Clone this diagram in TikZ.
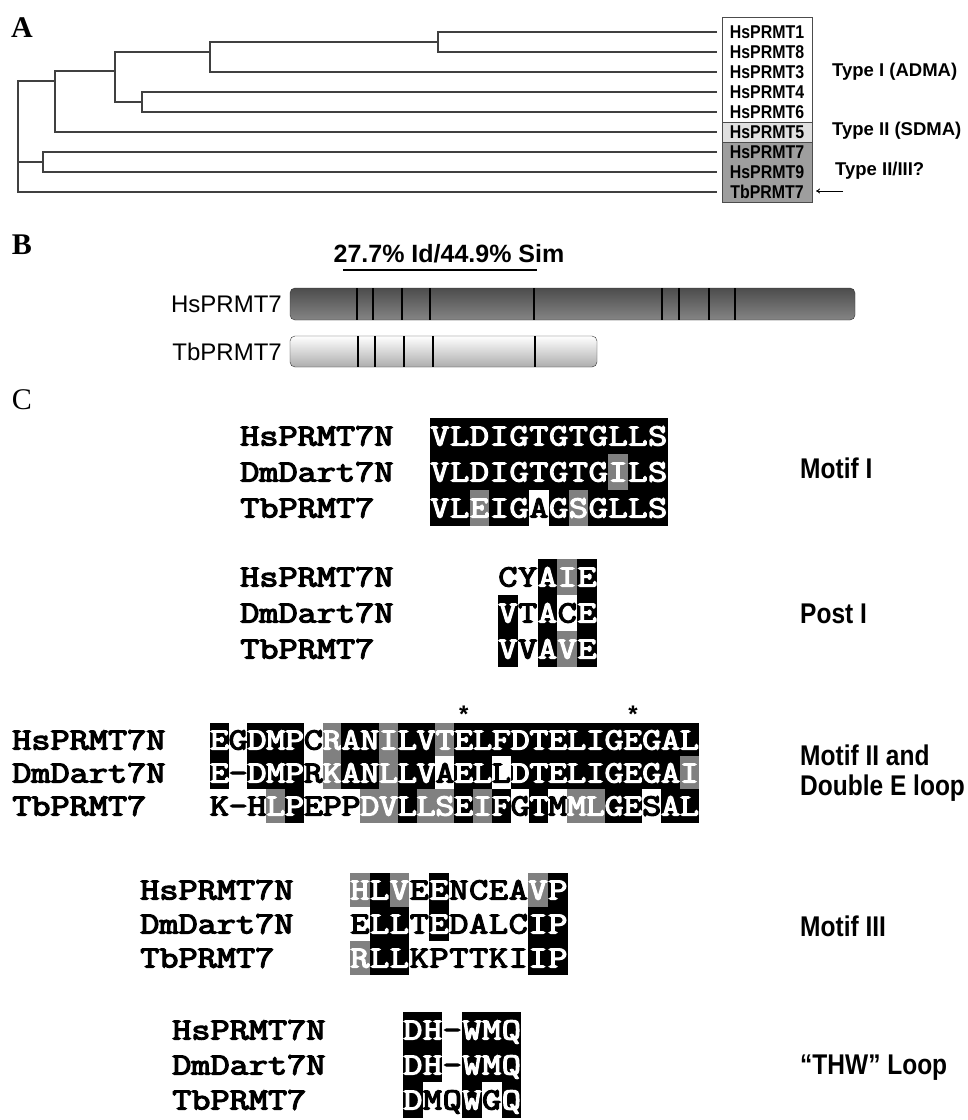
\documentclass[tikz,border=0pt]{standalone}
\usepackage{fontspec}
\setmainfont{Liberation Serif}
\newfontfamily\armfont{Liberation Sans}
\newfontfamily\condfont[FakeStretch=0.86]{Liberation Sans}
\usetikzlibrary{arrows.meta,positioning}

\newcommand{\seqfont}{\fontsize{31}{31}\selectfont\ttfamily}
\newcommand{\seq}[1]{\special{pdf:literal direct 2 Tr 1.1 w}\scalebox{1.2}[1]{#1}\special{pdf:literal direct 0 Tr}}
% one row of an alignment: name, x0, y, column width, row height, residue/shade list
\newcommand{\alnrow}[6]{%
  \foreach \res/\sh [count=\k] in {#6}
    \node[res\sh, minimum width=#4pt, minimum height=#5pt] (#1-\k) at ({#2+(\k-0.5)*#4},#3) {\seq{\res}};}

\tikzset{
  branch/.style={draw=black!75, line width=1.1pt},
  cell/.style={inner sep=0pt, outer sep=0pt, font=\seqfont, text height=19pt, text depth=0pt},
  resb/.style={cell, fill=black, text=white},
  resg/.style={cell, fill=black!50, text=white},
  resw/.style={cell, fill=white, text=black},
  seqlabel/.style={anchor=west, inner sep=0pt, font=\seqfont, text height=19pt, text depth=0pt},
  motiflabel/.style={anchor=west, inner sep=0pt, font={\fontsize{28.5}{30}\condfont\bfseries}},
  protname/.style={inner sep=0pt, font={\fontsize{18.5}{18.5}\condfont\bfseries}},
  typelabel/.style={anchor=west, inner sep=0pt, font={\fontsize{18.5}{18.5}\armfont\bfseries}},
  panel/.style={inner sep=0pt, font={\fontsize{30}{30}\selectfont\bfseries}},
}

\begin{document}
\begin{tikzpicture}[x=1pt,y=-1pt]
\useasboundingbox (0,0) rectangle (968,1120);
\fill[white] (0,0) rectangle (968,1120);

% ---- A: tree
\node[panel] (lblA) at (22,28) {A};
\foreach \i in {1,...,9} \coordinate (e\i) at (717,{12+20*\i});
\coordinate (n18) at (438,42);
\coordinate (n183) at (210,52);
\coordinate (n46) at (142,102);
\coordinate (nI) at (115,71);
\coordinate (nI5) at (55,81);
\coordinate (n79) at (43,162);
\coordinate (root) at (18,162);
\draw[branch] (e1) -| (n18) |- (e2);
\draw[branch] (n18) -| (n183) |- (e3);
\draw[branch] (e4) -| (n46) |- (e5);
\draw[branch] (n183) -| (nI) |- (n46);
\draw[branch] (nI) -| (nI5) |- (e6);
\draw[branch] (e7) -| (n79) |- (e8);
\draw[branch] (nI5) -| (root) |- (e9);
\draw[branch] (n79) -- (root);

\fill[black!12] (722,122) rectangle (812,142);
\fill[black!38] (722,142) rectangle (812,202);
\draw[black!70, line width=1pt] (722,17) rectangle (812,202);
\draw[black!70, line width=1pt] (722,122) -- (812,122) (722,142) -- (812,142);
\foreach \nm [count=\i] in {HsPRMT1,HsPRMT8,HsPRMT3,HsPRMT4,HsPRMT6,HsPRMT5,HsPRMT7,HsPRMT9,TbPRMT7}
  \node[protname] (p\i) at (767,{12+20*\i}) {\nm};
\node[typelabel] (typeI) at (832,72) {Type I (ADMA)};
\node[typelabel] (typeII) at (832,131) {Type II (SDMA)};
\node[typelabel] (typeIII) at (835,171) {Type II/III?};
\coordinate (arrtail) at (843,191);
\coordinate (arrtip) at (816,191);
\draw[-{To[length=4pt,width=5pt]}, line width=0.9pt] (arrtail) -- (arrtip);

% ---- B: domain bars
\node[panel] (lblB) at (22,245) {B};
\node[inner sep=0pt, font={\fontsize{25}{25}\armfont\bfseries}] (ident) at (449,254) {27.7\% Id/44.9\% Sim};
\coordinate (ul1) at (343,270);
\coordinate (ul2) at (537,270);
\draw[line width=1.6pt] (ul1) -- (ul2);
\node[anchor=east, inner sep=0pt, font={\fontsize{24}{24}\armfont}] (hsname) at (282,304) {HsPRMT7};
\draw[rounded corners=5pt, top color=black!70, bottom color=black!48, draw=black!80] (290,288) rectangle (855,320);
\foreach \mx in {357,373,402,430,534,662,679,709,735}
  \draw[line width=1.6pt] (\mx,288) -- (\mx,320);
\node[anchor=east, inner sep=0pt, font={\fontsize{24}{24}\armfont}] (tbname) at (282,352) {TbPRMT7};
\draw[rounded corners=5pt, top color=white, bottom color=black!32, draw=black!80] (290,336) rectangle (597,367);
\foreach \mx in {358,375,404,433,535}
  \draw[line width=1.6pt] (\mx,336) -- (\mx,367);

% ---- C: alignments
\node[inner sep=0pt, font={\fontsize{30}{30}\selectfont}] (lblC) at (22,400) {C};

% Motif I
\node[seqlabel] (mIa) at (240,436) {\seq{HsPRMT7N}};
\node[seqlabel] (mIb) at (240,472) {\seq{DmDart7N}};
\node[seqlabel] (mIc) at (240,508) {\seq{TbPRMT7}};
\alnrow{I1}{430}{436}{19.8}{36.5}{V/b,L/b,D/b,I/b,G/b,T/b,G/b,T/b,G/b,L/b,L/b,S/b}
\alnrow{I2}{430}{472}{19.8}{36.5}{V/b,L/b,D/b,I/b,G/b,T/b,G/b,T/b,G/b,I/g,L/b,S/b}
\alnrow{I3}{430}{508}{19.8}{36.5}{V/b,L/b,E/g,I/b,G/b,A/w,G/b,S/g,G/b,L/b,L/b,S/b}
\node[motiflabel] (motifI) at (800,468) {Motif I};

% Post I
\node[seqlabel] (pIa) at (240,577) {\seq{HsPRMT7N}};
\node[seqlabel] (pIb) at (240,613) {\seq{DmDart7N}};
\node[seqlabel] (pIc) at (240,649) {\seq{TbPRMT7}};
\alnrow{P1}{498}{577}{19.8}{36.5}{C/w,Y/w,A/b,I/g,E/b}
\alnrow{P2}{498}{613}{19.8}{36.5}{V/b,T/w,A/b,C/w,E/b}
\alnrow{P3}{498}{649}{19.8}{36.5}{V/b,V/w,A/b,V/g,E/b}
\node[motiflabel] (postI) at (800,614) {Post I};

% Motif II and double E loop
\node[seqlabel] (mIIa) at (12,740) {\seq{HsPRMT7N}};
\node[seqlabel] (mIIb) at (12,773) {\seq{DmDart7N}};
\node[seqlabel] (mIIc) at (12,806) {\seq{TbPRMT7}};
\alnrow{II1}{210}{740}{18.8}{33.5}{E/b,G/w,D/b,M/b,P/b,C/w,R/g,A/b,N/b,I/g,L/b,V/b,T/g,E/b,L/b,F/b,D/b,T/b,E/b,L/b,I/b,G/b,E/b,G/b,A/b,L/b}
\alnrow{II2}{210}{773}{18.8}{33.5}{E/b,-/w,D/b,M/b,P/b,R/w,K/g,A/b,N/b,L/g,L/b,V/b,A/w,E/b,L/b,L/w,D/b,T/b,E/b,L/b,I/b,G/b,E/b,G/b,A/b,I/g}
\alnrow{II3}{210}{806}{18.8}{33.5}{K/w,-/w,H/w,L/g,P/b,E/w,P/w,P/w,D/g,V/g,L/b,L/g,S/g,E/b,I/g,F/b,G/w,T/b,M/w,M/g,L/g,G/b,E/b,S/w,A/b,L/b}
\node[font={\fontsize{24}{24}\armfont\bfseries}, inner sep=0pt, above=1pt of II1-14] (star1) {*};
\node[font={\fontsize{24}{24}\armfont\bfseries}, inner sep=0pt, above=1pt of II1-23] (star2) {*};
\node[motiflabel] (motifII) at (800,755) {Motif II and};
\node[motiflabel] (dblE) at (800,788) {Double E loop};

% Motif III
\node[seqlabel] (mIIIa) at (140,890) {\seq{HsPRMT7N}};
\node[seqlabel] (mIIIb) at (140,924) {\seq{DmDart7N}};
\node[seqlabel] (mIIIc) at (140,958) {\seq{TbPRMT7}};
\alnrow{III1}{350}{890}{19.8}{34.5}{H/g,L/b,V/g,E/w,E/b,N/w,C/w,E/w,A/w,V/g,P/b}
\alnrow{III2}{350}{924}{19.8}{34.5}{E/w,L/b,L/b,T/w,E/b,D/w,A/w,L/w,C/w,I/b,P/b}
\alnrow{III3}{350}{958}{19.8}{34.5}{R/g,L/b,L/b,K/w,P/w,T/w,T/w,K/w,I/w,I/b,P/b}
\node[motiflabel] (motifIII) at (800,926) {Motif III};

% THW loop
\node[seqlabel] (thwa) at (172,1030) {\seq{HsPRMT7N}};
\node[seqlabel] (thwb) at (172,1065) {\seq{DmDart7N}};
\node[seqlabel] (thwc) at (172,1100) {\seq{TbPRMT7}};
\alnrow{T1}{403}{1030}{19.7}{35.5}{D/b,H/b,-/w,W/b,M/b,Q/b}
\alnrow{T2}{403}{1065}{19.7}{35.5}{D/b,H/b,-/w,W/b,M/b,Q/b}
\alnrow{T3}{403}{1100}{19.7}{35.5}{D/b,M/w,Q/w,W/b,G/w,Q/b}
\node[motiflabel] (thw) at (800,1068) {“THW” Loop};
\end{tikzpicture}
\end{document}
